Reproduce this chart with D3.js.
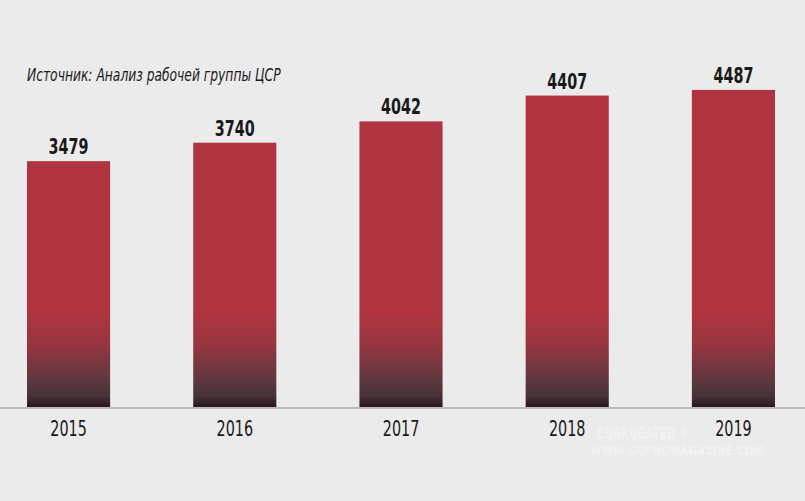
<!DOCTYPE html>
<html>
<head>
<meta charset="utf-8">
<script src="https://cdn.jsdelivr.net/npm/d3@7"></script>
<style>
  html, body { margin: 0; padding: 0; background: #ebebeb; }
  svg { display: block; }
  text { font-family: "DejaVu Sans Condensed", "Liberation Sans", sans-serif; }
</style>
</head>
<body>
<div id="chart"></div>
<script>
var years  = ["2015", "2016", "2017", "2018", "2019"];
var counts = [3479, 3740, 4042, 4407, 4487];
var source = "Источник: Анализ рабочей группы ЦСР";

var width = 805, height = 501;
var baseY = 407;
var squeeze = 0.76;   // no condensed face installed, so narrow the glyphs by hand

var svg = d3.select("#chart").append("svg")
    .attr("width", width)
    .attr("height", height);

var x = d3.scaleBand()
    .domain(years)
    .range([27, 775])
    .paddingInner(0.5)
    .paddingOuter(0);

var y = d3.scaleLinear()
    .domain([0, 4500])
    .range([baseY, 89]);

// red to dark fade near the floor, same for every bar
var grad = svg.append("defs").append("linearGradient")
    .attr("id", "barFade")
    .attr("gradientUnits", "userSpaceOnUse")
    .attr("x1", 0).attr("x2", 0)
    .attr("y1", 312).attr("y2", baseY);
grad.append("stop").attr("offset", "0%").attr("stop-color", "#b0343f");
grad.append("stop").attr("offset", "35%").attr("stop-color", "#96353f");
grad.append("stop").attr("offset", "70%").attr("stop-color", "#613840");
grad.append("stop").attr("offset", "88%").attr("stop-color", "#473338");
grad.append("stop").attr("offset", "100%").attr("stop-color", "#2b171c");

var data = years.map(function(d, i) { return {year: d, count: counts[i]}; });

svg.selectAll(".bar")
    .data(data)
    .enter()
    .append("rect")
    .attr("class", "bar")
    .attr("x", function(d) { return x(d.year); })
    .attr("y", function(d) { return y(d.count); })
    .attr("width", x.bandwidth())
    .attr("height", function(d) { return baseY - y(d.count); })
    .attr("fill", "url(#barFade)");

// baseline
svg.append("line")
    .attr("x1", 0).attr("x2", width)
    .attr("y1", baseY + 1).attr("y2", baseY + 1)
    .attr("stroke", "#b9b9b9")
    .attr("stroke-width", 2);

svg.selectAll(".label")
    .data(data)
    .enter()
    .append("text")
    .attr("class", "label")
    .attr("transform", function(d) {
        return "translate(" + (x(d.year) + x.bandwidth() / 2) + "," + (y(d.count) - 7) + ") scale(" + squeeze + ",1)";
    })
    .attr("text-anchor", "middle")
    .attr("font-size", 21)
    .attr("font-weight", "bold")
    .attr("fill", "#1a1a1a")
    .text(function(d) { return d.count; });

var xAxis = d3.axisBottom(x).tickSize(0).tickPadding(0);
var gx = svg.append("g")
    .attr("transform", "translate(0," + baseY + ")")
    .call(xAxis);
gx.select(".domain").remove();
gx.selectAll("text")
    .attr("y", 29)
    .attr("dy", null)
    .attr("transform", "scale(" + squeeze + ",1)")
    .attr("font-size", 21)
    .attr("font-family", null)
    .attr("fill", "#1a1a1a");

svg.append("text")
    .attr("transform", "translate(27,81) scale(" + squeeze + ",1)")
    .attr("font-size", 18)
    .attr("font-style", "italic")
    .attr("fill", "#1a1a1a")
    .text(source);

// faint watermark
svg.append("text")
    .attr("transform", "translate(597,439) scale(" + squeeze + ",1)")
    .attr("font-size", 15)
    .attr("font-weight", "bold")
    .attr("fill", "#ffffff")
    .attr("fill-opacity", 0.35)
    .text("CORRUGATED  ®");
svg.append("text")
    .attr("transform", "translate(677,455) scale(0.9,1)")
    .attr("text-anchor", "middle")
    .attr("font-size", 13)
    .attr("font-weight", "bold")
    .attr("fill", "#ffffff")
    .attr("fill-opacity", 0.35)
    .text("WWW.GOFROMAGAZINE.COM");
</script>
</body>
</html>
